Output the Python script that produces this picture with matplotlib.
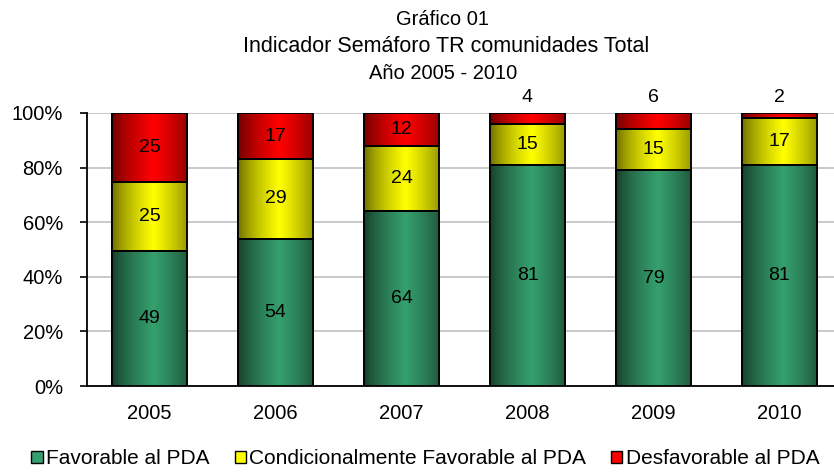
import numpy as np
import matplotlib
matplotlib.use("Agg")
import matplotlib.pyplot as plt
from matplotlib.colors import LinearSegmentedColormap
from matplotlib.ticker import PercentFormatter

years = ["2005", "2006", "2007", "2008", "2009", "2010"]
favorable = [49, 54, 64, 81, 79, 81]
condicional = [25, 29, 24, 15, 15, 17]
desfavorable = [25, 17, 12, 4, 6, 2]

series_names = ["Favorable al PDA", "Condicionalmente Favorable al PDA", "Desfavorable al PDA"]
# (edge shade, centre shade) for the horizontal gradient of each series
shades = [("#163d2a", "#35a06e"), ("#6e6e00", "#ffff00"), ("#6e0000", "#ff0000")]

plt.rcParams["font.family"] = ["Liberation Sans", "DejaVu Sans"]

fig = plt.figure(figsize=(8.34, 4.72), dpi=100)
ax = fig.add_axes([86.5 / 834, 86 / 472, (834 - 86.5) / 834, 273 / 472])

x = np.arange(len(years))
width = 0.6
data = [favorable, condicional, desfavorable]
totals = np.sum(np.array(data, dtype=float), axis=0)
bottom = np.zeros(len(years))

grad = np.linspace(0, 1, 256)
grad = np.clip(1 - np.abs(grad - 0.55) / 0.6, 0, 1) ** 0.6
grad = grad.reshape(1, -1)

for vals, (dark, bright), name in zip(data, shades, series_names):
    vals = np.array(vals, dtype=float)
    pct = vals / totals
    bars = ax.bar(x, pct, width, bottom=bottom, color=bright, edgecolor="black",
                  linewidth=1.3, label=name, zorder=3)
    cmap = LinearSegmentedColormap.from_list("g", [dark, bright])
    for b in bars:
        x0, y0 = b.get_x(), b.get_y()
        im = ax.imshow(grad, cmap=cmap, aspect="auto", zorder=3.5,
                       extent=[x0, x0 + b.get_width(), y0, y0 + b.get_height()],
                       interpolation="bicubic")
        im.set_clip_path(b)
        # outline on top of the gradient
        ax.add_patch(plt.Rectangle((x0, y0), b.get_width(), b.get_height(),
                                   fill=False, edgecolor="black", linewidth=1.3, zorder=4))
    for xi, v, p, b0 in zip(x, vals, pct, bottom):
        if v >= 10:
            ax.text(xi, b0 + p / 2, f"{int(v)}", ha="center", va="center",
                    fontsize=14, zorder=5)
        else:
            ax.text(xi, 1.0 + 0.058, f"{int(v)}", ha="center", va="center",
                    fontsize=14, zorder=5, clip_on=False)
    bottom += pct

ax.set_xlim(-0.5, 5.5 - 8.5 / 126)
ax.set_ylim(0, 1)
ax.set_yticks(np.arange(0, 1.01, 0.2))
ax.yaxis.set_major_formatter(PercentFormatter(1.0, decimals=0))
ax.set_xticks(x)
ax.set_xticklabels(years)
ax.tick_params(axis="y", direction="out", length=5, width=1.2, labelsize=14.5, pad=12)
ax.tick_params(axis="x", length=0, labelsize=14.5, pad=13)
ax.grid(axis="y", color="#c0c0c0", linewidth=1.2, zorder=0)
ax.set_axisbelow(True)
for s in ["top", "right"]:
    ax.spines[s].set_visible(False)
ax.spines["left"].set_linewidth(1.3)
ax.spines["bottom"].set_linewidth(1.3)

fig.text(0.531, 0.958, "Gráfico 01", ha="center", va="center", fontsize=14.5)
fig.text(0.535, 0.901, "Indicador Semáforo TR comunidades Total", ha="center", va="center", fontsize=15.5)
fig.text(0.531, 0.844, "Año 2005 - 2010", ha="center", va="center", fontsize=14.5)

handles = [plt.Rectangle((0, 0), 1, 1, facecolor=s[1], edgecolor="black", linewidth=1)
           for s in shades]
fig.legend(handles, series_names, loc="center", bbox_to_anchor=(0.51, 0.028),
           ncol=3, frameon=False, fontsize=15, handlelength=0.55, handleheight=0.55,
           handletextpad=0.15, columnspacing=1.2, borderpad=0.0)

fig.savefig("out.png", dpi=100)
